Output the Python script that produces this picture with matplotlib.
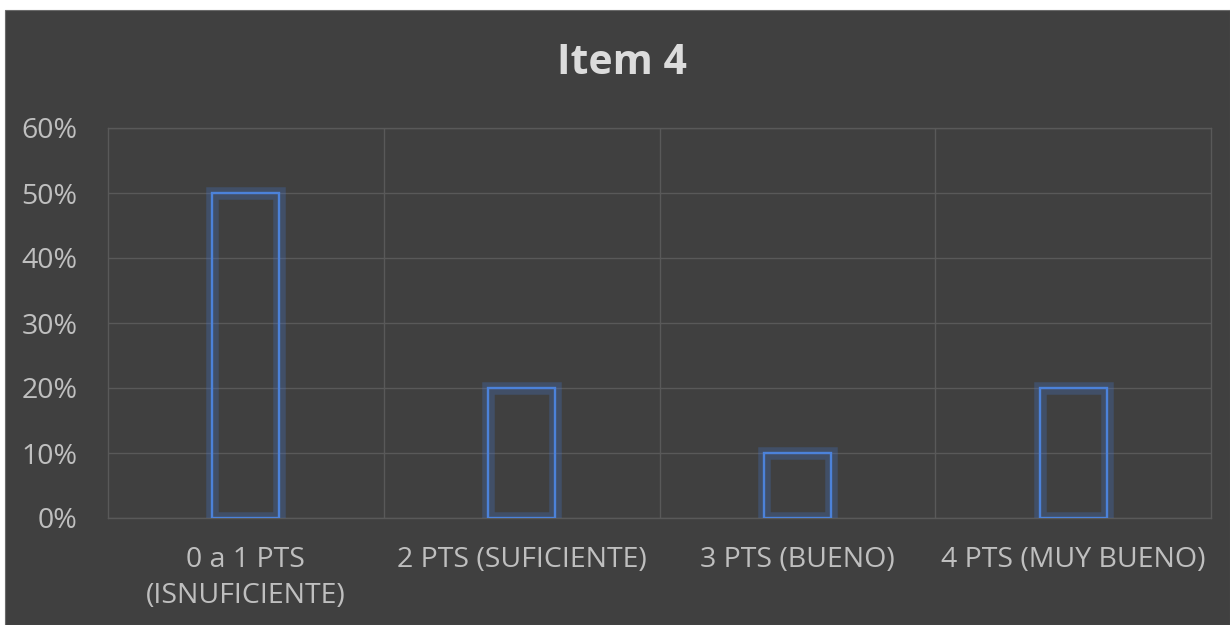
import matplotlib
matplotlib.use("Agg")
import matplotlib.pyplot as plt
from matplotlib.patches import Rectangle
from matplotlib.ticker import FuncFormatter, FixedLocator

categories = ["0 a 1 PTS\n(ISNUFICIENTE)", "2 PTS (SUFICIENTE)", "3 PTS (BUENO)", "4 PTS (MUY BUENO)"]
values = [0.50, 0.20, 0.10, 0.20]
yticks = [0, 0.1, 0.2, 0.3, 0.4, 0.5, 0.6]
title = "Item 4"

W, H = 1230, 625
fig = plt.figure(figsize=(W / 100, H / 100), dpi=100, facecolor="white")
plt.rcParams['font.family'] = ['Open Sans', 'DejaVu Sans']

bg = "#404040"
fig.patches.append(Rectangle((5 / W, 0), 1 - 5 / W, 1 - 10 / H, transform=fig.transFigure,
                             facecolor=bg, edgecolor="#6a6a6a", linewidth=0.8, zorder=-10))

ax = fig.add_axes([108 / W, 1 - 518 / H, (1211 - 108) / W, (518 - 128) / H])
ax.set_facecolor("none")

x = [i + 0.5 for i in range(len(categories))]
bw = 0.243
# glow
ax.bar(x, values, width=bw, facecolor="none", edgecolor="#4472C4", linewidth=9, alpha=0.3, zorder=3)
# bright outline
ax.bar(x, values, width=bw, facecolor="none", edgecolor="#4C82DA", linewidth=1.7, zorder=4)

ax.set_xlim(0, 4)
ax.set_ylim(0, 0.6)
ax.yaxis.set_major_locator(FixedLocator(yticks))
ax.yaxis.set_major_formatter(FuncFormatter(lambda v, p: f"{v*100:.0f}%"))
ax.set_xticks(x)
ax.set_xticklabels(categories)
ax.xaxis.set_minor_locator(FixedLocator([1, 2, 3]))

gc = "#595959"
ax.grid(axis="y", color=gc, linewidth=1.0, zorder=1)
ax.grid(axis="x", which="minor", color=gc, linewidth=1.0, zorder=1)
for s in ax.spines.values():
    s.set_color(gc)
    s.set_linewidth(1.0)

ax.tick_params(axis="both", which="both", length=0, colors="#BFBFBF", labelsize=20.5)
ax.tick_params(axis="y", pad=22)
ax.tick_params(axis="x", pad=20)
for lab in ax.get_xticklabels():
    lab.set_linespacing(1.38)

fig.text(622 / W, 1 - 64 / H, title, ha="center", va="center", fontsize=29.5,
         fontweight="bold", color="#DCDCDC")

fig.savefig("out.png", dpi=100, facecolor=fig.get_facecolor())
